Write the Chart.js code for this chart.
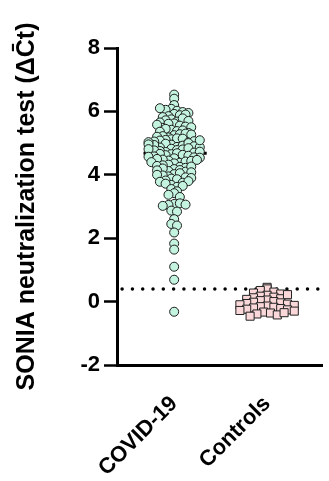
<!DOCTYPE html>
<html><head><meta charset="utf-8">
<script src="https://cdn.jsdelivr.net/npm/chart.js@4"></script>
<style>html,body{margin:0;padding:0;background:#fff}</style>
</head><body>
<canvas id="c" width="329" height="481"></canvas>
<script>
const categories = ['COVID-19', 'Controls'];
const covidValues = [
  6.53, 6.4, 6.2,
  6.08, 6.02, 6.05, 5.98, 6.1,
  5.92, 5.85, 5.88, 5.95, 5.82, 5.9,
  5.75, 5.68, 5.72, 5.62, 5.78, 5.65, 5.7, 5.61,
  5.55, 5.48, 5.42, 5.38, 5.52, 5.45, 5.58, 5.4, 5.5, 5.36,
  5.32, 5.25, 5.18, 5.12, 5.28, 5.22, 5.15, 5.3, 5.2, 5.1, 5.27, 5.14,
  5.08, 5.02, 4.95, 4.88, 5.05, 4.98, 4.92, 4.86, 5.06, 5.0, 4.94, 4.9, 5.03, 4.96, 4.87, 5.09,
  4.82, 4.78, 4.72, 4.65, 4.8, 4.75, 4.68, 4.62, 4.84, 4.77, 4.7, 4.63, 4.81, 4.73, 4.66, 4.6,
  4.58, 4.52, 4.45, 4.38, 4.55, 4.48, 4.42, 4.36, 4.57, 4.5, 4.44, 4.4, 4.54, 4.47,
  4.32, 4.25, 4.18, 4.12, 4.3, 4.22, 4.15, 4.28, 4.2, 4.1, 4.26, 4.14,
  4.08, 4.02, 3.95, 3.88, 4.05, 3.98, 3.92, 4.0, 3.9, 3.86,
  3.82, 3.75, 3.68, 3.62, 3.78, 3.72, 3.8, 3.65,
  3.55, 3.48, 3.42,
  3.37, 3.3, 3.08, 3.05, 3.1, 3.02, 3.06, 2.87, 2.84, 2.6, 2.45, 2.4,
  2.18, 1.83, 1.64, 1.1, 0.69, -0.32
];
const controlValues = [
  0.45,
  0.4, 0.35, 0.3, 0.27,
  0.24, 0.2, 0.17, 0.14, 0.12, 0.09, 0.07, 0.22,
  0.05, 0.03, 0.0, -0.02, -0.04, -0.06, -0.08, -0.1, -0.12,
  -0.14, -0.16, -0.18, -0.2, -0.22, -0.24, -0.26, -0.28, -0.3,
  -0.33, -0.36, -0.39, -0.42, -0.46, -0.35
];
const thresholdValue = 0.4;
const yTicks = [-2, 0, 2, 4, 6, 8];
const yTitle = 'SONIA neutralization test (\u0394C\u0304t)';

function median(arr) {
  const s = arr.slice().sort((a, b) => a - b);
  const m = Math.floor(s.length / 2);
  return s.length % 2 ? s[m] : (s[m - 1] + s[m]) / 2;
}

const X_MIN = 0.385, X_MAX = 2.594;
const FONT = 'Liberation Sans, Arial, Helvetica, sans-serif';

const ctx = document.getElementById('c').getContext('2d');
const chart = new Chart(ctx, {
  type: 'scatter',
  data: {
    datasets: [
      {
        label: categories[0],
        data: covidValues.map(v => ({ x: 1, y: v })),
        pointStyle: 'circle', pointRadius: 4.5, pointHoverRadius: 4.5,
        backgroundColor: '#c4f4e0', borderColor: '#1c1c1c', borderWidth: 1,
        order: 0
      },
      {
        label: categories[1],
        data: controlValues.map(v => ({ x: 2, y: v })),
        pointStyle: 'rect', pointRadius: 5.7, pointHoverRadius: 5.7,
        backgroundColor: '#fad8da', borderColor: '#222', borderWidth: 1,
        order: 0
      },
      {
        type: 'line', label: 'median1',
        data: [{ x: 0.67, y: median(covidValues) }, { x: 1.35, y: median(covidValues) }],
        borderColor: '#000', borderWidth: 3, pointRadius: 0, order: 5
      },
      {
        type: 'line', label: 'median2',
        data: [{ x: 1.72, y: median(controlValues) }, { x: 2.28, y: median(controlValues) }],
        borderColor: '#000', borderWidth: 3, pointRadius: 0, order: 5
      },
      {
        type: 'line', label: 'threshold',
        data: [{ x: 0.44, y: thresholdValue }, { x: X_MAX, y: thresholdValue }],
        borderColor: '#000', borderWidth: 3.5, borderDash: [0, 10.3], borderCapStyle: 'round',
        pointRadius: 0, order: 4, clip: false
      }
    ]
  },
  options: {
    responsive: false, animation: false, devicePixelRatio: 1,
    layout: { padding: { top: 48, right: 0, bottom: 0, left: 0 } },
    plugins: { legend: { display: false }, tooltip: { enabled: false } },
    scales: {
      x: {
        type: 'linear', min: X_MIN, max: X_MAX,
        afterBuildTicks: s => { s.ticks = [{ value: 1 }, { value: 2 }]; },
        afterFit: s => { s.height = 116; },
        grid: { display: false, drawTicks: false },
        border: { display: true, color: '#000', width: 3 },
        ticks: {
          minRotation: 45, maxRotation: 45, padding: 26, color: '#000',
          font: { family: FONT, size: 22, weight: 'bold' },
          callback: v => categories[Math.round(v) - 1]
        }
      },
      y: {
        type: 'linear', min: -2, max: 8,
        afterBuildTicks: s => { s.ticks = yTicks.map(v => ({ value: v })); },
        afterFit: s => { s.width = 117; },
        grid: { drawOnChartArea: false, drawTicks: true, tickLength: 13, tickColor: '#000', tickWidth: 2.5 },
        border: { display: true, color: '#000', width: 3 },
        ticks: { padding: 4, color: '#000', font: { family: FONT, size: 22, weight: 'bold' } },
        title: {
          display: true, text: yTitle, color: '#000',
          font: { family: FONT, size: 25, weight: 'bold' },
          padding: { top: 12, bottom: 0 }
        }
      }
    }
  }
});

// Row-based swarm: points falling in the same pixel band are spread side by side
function rowSwarm(values, binH, spacing) {
  const ys = chart.scales.y;
  const top = chart.chartArea.top;
  const bins = new Map();
  values.forEach((v, i) => {
    const py = ys.getPixelForValue(v);
    const b = Math.floor((py - top) / binH);
    if (!bins.has(b)) bins.set(b, []);
    bins.get(b).push(i);
  });
  const out = new Array(values.length).fill(0);
  for (const idx of bins.values()) {
    const n = idx.length;
    const slots = [];
    for (let k = 0; k < n; k++) slots.push((k - (n - 1) / 2) * spacing);
    slots.sort((a, b) => Math.abs(a) - Math.abs(b) || a - b);
    idx.forEach((i, k) => { out[i] = slots[k]; });
  }
  return out;
}

function applySwarm(dsIndex, values, cat, binH, spacing) {
  const xs = chart.scales.x;
  const offs = rowSwarm(values, binH, spacing);
  const cx = xs.getPixelForValue(cat);
  chart.data.datasets[dsIndex].data = values.map((v, i) => ({ x: xs.getValueForPixel(cx + offs[i]), y: v }));
}
applySwarm(0, covidValues, 1, 5, 5.7);
applySwarm(1, controlValues, 2, 6, 6.8);
chart.update('none');
</script>
</body></html>
